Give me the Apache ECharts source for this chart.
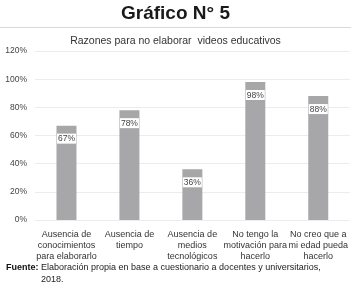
<!DOCTYPE html>
<html><head><meta charset="utf-8">
<script src="https://cdn.jsdelivr.net/npm/echarts@6/dist/echarts.min.js"></script>
<style>html,body{margin:0;padding:0;background:#fff}#c{width:351px;height:290px}</style>
</head><body><div id="c"></div>
<script>
const categories = [
  "Ausencia de\nconocimientos\npara elaborarlo",
  "Ausencia de\ntiempo",
  "Ausencia de\nmedios\ntecnológicos",
  "No tengo la\nmotivación para\nhacerlo",
  "No creo que a\nmi edad pueda\nhacerlo"
];
const values = [67, 78, 36, 98, 88];
const yTicks = [0, 20, 40, 60, 80, 100, 120];
const titleText = "Gráfico N° 5";
const subtitleText = "Razones para no elaborar  videos educativos";
const sourceLabel = "Fuente:";
const sourceText = "Elaboración propia en base a cuestionario a docentes y universitarios,";
const sourceText2 = "2018.";

const F = 'Arial, "Liberation Sans", sans-serif';
const chart = echarts.init(document.getElementById('c'), null, {renderer: 'canvas'});
chart.setOption({
  animation: false,
  backgroundColor: '#fff',
  title: [
    {text: titleText, left: 'center', top: -1, textStyle: {fontFamily: F, fontSize: 19, fontWeight: 'bold', color: '#1a1a1a'}},
    {text: subtitleText, left: 'center', top: 31, textStyle: {fontFamily: F, fontSize: 10.5, fontWeight: 'normal', color: '#333'}}
  ],
  graphic: [
    {type: 'line', shape: {x1: 0, y1: 27.5, x2: 351, y2: 27.5}, style: {stroke: '#d9d9d9', lineWidth: 1}},
    {type: 'text', left: 6, top: 263, style: {text: sourceLabel, font: 'bold 9px ' + F, fill: '#111'}},
    {type: 'text', left: 41, top: 263, style: {text: sourceText, font: '9px ' + F, fill: '#222'}},
    {type: 'text', left: 41, top: 275, style: {text: sourceText2, font: '9px ' + F, fill: '#222'}}
  ],
  grid: {left: 35, right: 1, top: 51, bottom: 70, containLabel: false},
  xAxis: {
    type: 'category', data: categories,
    axisLine: {show: false}, axisTick: {show: false},
    axisLabel: {fontFamily: F, fontSize: 9, color: '#333', lineHeight: 11, margin: 9, interval: 0}
  },
  yAxis: {
    type: 'value', min: yTicks[0], max: yTicks[yTicks.length - 1], interval: 20,
    axisLine: {show: false}, axisTick: {show: false},
    axisLabel: {fontFamily: F, fontSize: 8.5, color: '#444', formatter: '{value}%', margin: 8},
    splitLine: {lineStyle: {color: '#ececec', width: 1}}
  },
  series: [{
    type: 'bar', data: values, barWidth: 20,
    itemStyle: {color: '#a7a7aa'},
    label: {
      show: true, position: 'insideTop', distance: 8, formatter: '{c}%',
      fontFamily: F, fontSize: 8.5, color: '#444', backgroundColor: '#fff', padding: [1, 1, 0, 1]
    }
  }]
});
</script></body></html>
